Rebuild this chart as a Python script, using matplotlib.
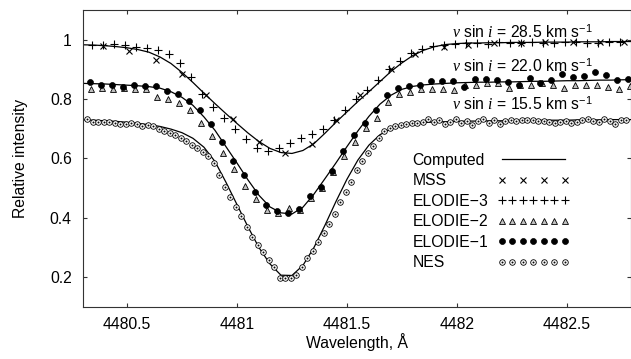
import matplotlib
matplotlib.use('Agg')
import matplotlib.pyplot as plt
from matplotlib.path import Path
from matplotlib.legend_handler import HandlerLine2D

plt.rcParams['font.family'] = ['Liberation Sans', 'DejaVu Sans']
plt.rcParams['font.size'] = 11.3
plt.rcParams['mathtext.fontset'] = 'custom'
plt.rcParams['mathtext.rm'] = 'Liberation Sans'
plt.rcParams['mathtext.it'] = 'Liberation Serif:italic'

# Computed profiles, sampled every 0.05 A
calc_wl = [4480.30, 4480.35, 4480.40, 4480.45, 4480.50, 4480.55, 4480.60, 4480.65, 4480.70, 4480.75,
           4480.80, 4480.85, 4480.90, 4480.95, 4481.00, 4481.05, 4481.10, 4481.15, 4481.20, 4481.25,
           4481.30, 4481.35, 4481.40, 4481.45, 4481.50, 4481.55, 4481.60, 4481.65, 4481.70, 4481.75,
           4481.80, 4481.85, 4481.90, 4481.95, 4482.00, 4482.05, 4482.10, 4482.15, 4482.20, 4482.25,
           4482.30, 4482.35, 4482.40, 4482.45, 4482.50, 4482.55, 4482.60, 4482.65, 4482.70, 4482.75, 4482.80]
calc_285 = [0.983, 0.982, 0.980, 0.977, 0.973, 0.967, 0.958, 0.942, 0.920, 0.890,
            0.856, 0.820, 0.785, 0.751, 0.718, 0.686, 0.657, 0.634, 0.620, 0.617,
            0.627, 0.650, 0.685, 0.722, 0.757, 0.792, 0.825, 0.859, 0.893, 0.922,
            0.947, 0.965, 0.977, 0.984, 0.987, 0.989, 0.989, 0.990, 0.990, 0.991,
            0.991, 0.991, 0.992, 0.992, 0.992, 0.993, 0.993, 0.993, 0.994, 0.994, 0.994]
calc_220 = [0.853, 0.852, 0.851, 0.849, 0.847, 0.845, 0.842, 0.837, 0.825, 0.806,
            0.779, 0.740, 0.695, 0.640, 0.585, 0.528, 0.476, 0.437, 0.417, 0.413,
            0.436, 0.480, 0.532, 0.585, 0.640, 0.693, 0.742, 0.783, 0.813, 0.833,
            0.843, 0.848, 0.851, 0.853, 0.855, 0.856, 0.857, 0.857, 0.858, 0.858,
            0.859, 0.860, 0.860, 0.861, 0.862, 0.862, 0.863, 0.864, 0.864, 0.865, 0.866]
calc_155 = [0.730, 0.729, 0.727, 0.725, 0.722, 0.718, 0.714, 0.708, 0.699, 0.687,
            0.668, 0.638, 0.590, 0.520, 0.445, 0.370, 0.300, 0.245, 0.207, 0.206,
            0.240, 0.300, 0.375, 0.455, 0.530, 0.595, 0.645, 0.680, 0.700, 0.712,
            0.718, 0.721, 0.723, 0.724, 0.725, 0.726, 0.726, 0.727, 0.727, 0.728,
            0.728, 0.728, 0.729, 0.729, 0.729, 0.730, 0.730, 0.730, 0.731, 0.731, 0.731]

# MSS
mss_wl = [4480.39, 4480.51, 4480.63, 4480.75, 4480.86, 4480.98, 4481.10, 4481.22, 4481.34, 4481.45,
          4481.56, 4481.70, 4481.81, 4481.94, 4482.05, 4482.17, 4482.29, 4482.40, 4482.53, 4482.65, 4482.76]
mss_int = [0.978, 0.961, 0.933, 0.886, 0.813, 0.732, 0.655, 0.619, 0.648, 0.728,
           0.815, 0.902, 0.952, 0.976, 0.983, 0.989, 0.989, 0.991, 0.991, 0.991, 0.991]

# ELODIE-3
e3_wl = [4480.34, 4480.39, 4480.44, 4480.49, 4480.54, 4480.59, 4480.64, 4480.69, 4480.74, 4480.79,
         4480.84, 4480.89, 4480.94, 4480.99, 4481.04, 4481.09, 4481.14, 4481.19, 4481.24, 4481.29,
         4481.34, 4481.39, 4481.44, 4481.49, 4481.54, 4481.59, 4481.64, 4481.69, 4481.74, 4481.79,
         4481.84, 4481.89, 4481.94, 4481.99, 4482.04, 4482.09, 4482.14, 4482.19, 4482.24, 4482.29,
         4482.34, 4482.39, 4482.44, 4482.49, 4482.54, 4482.59, 4482.64, 4482.69, 4482.74]
e3_int = [0.983, 0.983, 0.986, 0.981, 0.974, 0.971, 0.964, 0.953, 0.922, 0.875,
          0.818, 0.773, 0.738, 0.698, 0.665, 0.635, 0.624, 0.635, 0.653, 0.669,
          0.682, 0.701, 0.730, 0.762, 0.801, 0.832, 0.863, 0.900, 0.930, 0.955,
          0.969, 0.978, 0.981, 0.986, 0.988, 0.990, 0.987, 0.991, 0.989, 0.988,
          0.992, 0.990, 0.989, 0.991, 0.993, 0.990, 0.989, 0.992, 0.991]

# ELODIE-2
e2_wl = [4480.335, 4480.385, 4480.435, 4480.485, 4480.535, 4480.585, 4480.635, 4480.685, 4480.735, 4480.785,
         4480.835, 4480.885, 4480.935, 4480.985, 4481.035, 4481.085, 4481.135, 4481.185, 4481.235, 4481.285,
         4481.335, 4481.385, 4481.435, 4481.485, 4481.535, 4481.585, 4481.635, 4481.685, 4481.735, 4481.785,
         4481.835, 4481.885, 4481.935, 4481.985, 4482.035, 4482.085, 4482.135, 4482.185, 4482.235, 4482.285,
         4482.335, 4482.385, 4482.435, 4482.485, 4482.535, 4482.585, 4482.635, 4482.685, 4482.735, 4482.785]
e2_int = [0.835, 0.838, 0.835, 0.838, 0.835, 0.833, 0.807, 0.799, 0.786, 0.762,
          0.719, 0.676, 0.620, 0.564, 0.509, 0.464, 0.427, 0.417, 0.433, 0.428,
          0.466, 0.500, 0.553, 0.609, 0.655, 0.704, 0.738, 0.790, 0.816, 0.823,
          0.833, 0.833, 0.833, 0.830, 0.849, 0.849, 0.855, 0.853, 0.838, 0.846,
          0.849, 0.853, 0.846, 0.838, 0.846, 0.846, 0.846, 0.841, 0.835, 0.844]

# ELODIE-1
e1_wl = [4480.33, 4480.38, 4480.43, 4480.48, 4480.53, 4480.58, 4480.63, 4480.68, 4480.73, 4480.78,
         4480.83, 4480.88, 4480.93, 4480.98, 4481.03, 4481.08, 4481.13, 4481.18, 4481.23, 4481.28,
         4481.33, 4481.38, 4481.43, 4481.48, 4481.53, 4481.58, 4481.63, 4481.68, 4481.73, 4481.78,
         4481.83, 4481.88, 4481.93, 4481.98, 4482.03, 4482.08, 4482.13, 4482.18, 4482.23, 4482.28,
         4482.33, 4482.38, 4482.43, 4482.48, 4482.53, 4482.58, 4482.63, 4482.68, 4482.73, 4482.78]
e1_int = [0.857, 0.849, 0.847, 0.841, 0.846, 0.844, 0.844, 0.827, 0.817, 0.793,
          0.763, 0.715, 0.656, 0.592, 0.544, 0.488, 0.442, 0.423, 0.417, 0.430,
          0.473, 0.503, 0.559, 0.626, 0.678, 0.721, 0.765, 0.815, 0.838, 0.844,
          0.846, 0.860, 0.860, 0.860, 0.841, 0.868, 0.869, 0.866, 0.856, 0.846,
          0.872, 0.853, 0.866, 0.885, 0.874, 0.877, 0.891, 0.880, 0.866, 0.868]

# NES
nes_wl = [4480.320, 4480.345, 4480.370, 4480.395, 4480.420, 4480.445, 4480.470, 4480.495, 4480.520, 4480.545,
          4480.570, 4480.595, 4480.620, 4480.645, 4480.670, 4480.695, 4480.720, 4480.745, 4480.770, 4480.795,
          4480.820, 4480.845, 4480.870, 4480.895, 4480.920, 4480.945, 4480.970, 4480.995, 4481.020, 4481.045,
          4481.070, 4481.095, 4481.120, 4481.145, 4481.170, 4481.195, 4481.220, 4481.245, 4481.270, 4481.295,
          4481.320, 4481.345, 4481.370, 4481.395, 4481.420, 4481.445, 4481.470, 4481.495, 4481.520, 4481.545,
          4481.570, 4481.595, 4481.620, 4481.645, 4481.670, 4481.695, 4481.720, 4481.745, 4481.770, 4481.795,
          4481.820, 4481.845, 4481.870, 4481.895, 4481.920, 4481.945, 4481.970, 4481.995, 4482.020, 4482.045,
          4482.070, 4482.095, 4482.120, 4482.145, 4482.170, 4482.195, 4482.220, 4482.245, 4482.270, 4482.295,
          4482.320, 4482.345, 4482.370, 4482.395, 4482.420, 4482.445, 4482.470, 4482.495, 4482.520, 4482.545,
          4482.570, 4482.595, 4482.620, 4482.645, 4482.670, 4482.695, 4482.720, 4482.745, 4482.770]
nes_int = [0.732, 0.724, 0.723, 0.723, 0.723, 0.719, 0.716, 0.715, 0.719, 0.716,
           0.710, 0.712, 0.710, 0.700, 0.693, 0.686, 0.680, 0.670, 0.659, 0.647,
           0.635, 0.622, 0.608, 0.585, 0.545, 0.505, 0.470, 0.438, 0.405, 0.368,
           0.335, 0.308, 0.286, 0.259, 0.233, 0.196, 0.197, 0.198, 0.208, 0.235,
           0.264, 0.290, 0.318, 0.348, 0.380, 0.414, 0.453, 0.487, 0.520, 0.562,
           0.590, 0.618, 0.642, 0.670, 0.693, 0.703, 0.709, 0.714, 0.717, 0.719,
           0.719, 0.722, 0.733, 0.722, 0.728, 0.716, 0.724, 0.732, 0.720, 0.727,
           0.714, 0.725, 0.733, 0.721, 0.729, 0.717, 0.726, 0.731, 0.726, 0.729,
           0.728, 0.730, 0.727, 0.726, 0.722, 0.719, 0.724, 0.727, 0.718, 0.722,
           0.729, 0.732, 0.725, 0.723, 0.734, 0.727, 0.715, 0.728, 0.730]

vsini_labels = ['28.5', '22.0', '15.5']
vsini_pos = [1.026, 0.912, 0.783]

xticks = [4480.5, 4481, 4481.5, 4482, 4482.5]
xtick_labels = ['4480.5', '4481', '4481.5', '4482', '4482.5']
yticks = [0.2, 0.4, 0.6, 0.8, 1.0]
ytick_labels = ['0.2', '0.4', '0.6', '0.8', '1']

# circle with a dot in the middle
nes_marker = Path.make_compound_path(Path.unit_circle(), Path.circle((0, 0), 0.2))

fig = plt.figure(figsize=(6.31, 3.59), dpi=100)
ax = fig.add_axes([0.1315, 0.145, 0.868, 0.827])

line_kw = dict(color='black', lw=0.9)
h_calc, = ax.plot(calc_wl, calc_285, **line_kw)
ax.plot(calc_wl, calc_220, **line_kw)
ax.plot(calc_wl, calc_155, **line_kw)

h_mss, = ax.plot(mss_wl, mss_int, ls='none', marker='x', ms=5, mew=0.8, color='black')
h_e3, = ax.plot(e3_wl, e3_int, ls='none', marker='+', ms=5.5, mew=0.8, color='black')
h_e2, = ax.plot(e2_wl, e2_int, ls='none', marker='^', ms=4.3, mew=0.6, mec='black', mfc='0.75')
h_e1, = ax.plot(e1_wl, e1_int, ls='none', marker='o', ms=4.3, mew=0.5, color='black')
h_nes, = ax.plot(nes_wl, nes_int, ls='none', marker=nes_marker, ms=4.0, mew=0.6, mec='black', mfc='white')

for lab, y in zip(vsini_labels, vsini_pos):
    ax.text(4481.977, y, r'$\nu$ sin $i$ = ' + lab + r' km s$^{\mathregular{-1}}$',
            ha='left', va='center', fontsize=11.3)

ax.set_xlim(4480.3, 4482.79)
ax.set_ylim(0.1, 1.1)
ax.set_xticks(xticks)
ax.set_xticklabels(xtick_labels)
ax.set_yticks(yticks)
ax.set_yticklabels(ytick_labels)
ax.tick_params(direction='in', top=True, right=True, length=3, width=0.8, pad=7, color='#333333')
ax.tick_params(axis='y', pad=8)
for s in ax.spines.values():
    s.set_linewidth(0.8)
    s.set_color('#333333')

ax.set_xlabel('Wavelength, \u00c5', labelpad=1)
ax.set_ylabel('Relative intensity', labelpad=16)

leg = ax.legend([h_calc, h_mss, h_e3, h_e2, h_e1, h_nes],
                ['Computed', 'MSS', 'ELODIE\u22123', 'ELODIE\u22122', 'ELODIE\u22121', 'NES'],
                loc='upper left', bbox_to_anchor=(0.602, 0.52), frameon=False,
                markerfirst=False, numpoints=7, handlelength=4.6, handletextpad=0.55,
                labelspacing=0.35, borderpad=0, borderaxespad=0,
                handler_map={h_mss: HandlerLine2D(numpoints=4)})

# key text stays left-aligned, samples line up in one column
fig.canvas.draw()
renderer = fig.canvas.get_renderer()
column = leg._legend_handle_box.get_children()[0]
column.align = 'left'
rows = column.get_children()
widths = [row.get_children()[0].get_bbox(renderer).width for row in rows]
pt = renderer.points_to_pixels(1.0)
for row, w in zip(rows, widths):
    row.sep += (max(widths) - w) / pt

fig.savefig('out.png', dpi=100)
